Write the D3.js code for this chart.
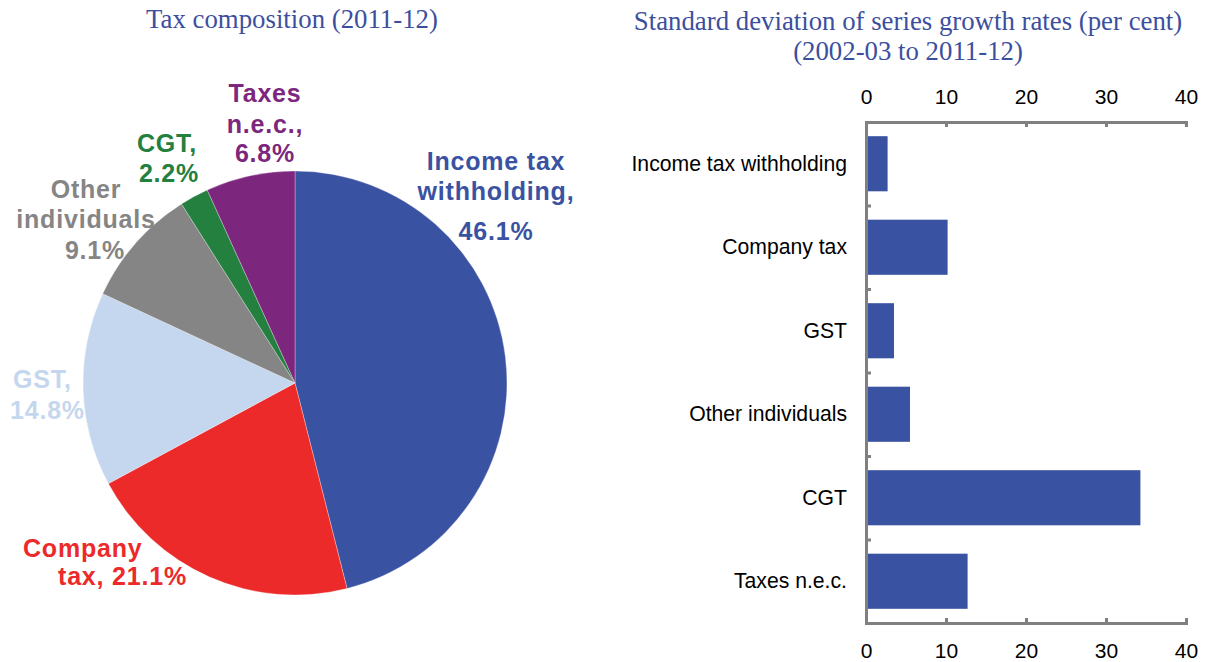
<!DOCTYPE html>
<html>
<head>
<meta charset="utf-8">
<script src="https://cdn.jsdelivr.net/npm/d3@7"></script>
<style>
  body { margin: 0; background: #fff; }
  svg { display: block; }
</style>
</head>
<body>
<div id="chart"></div>
<script>
// pie: tax composition 2011-12 (per cent)
const pieNames = ["Income tax withholding", "Company tax", "GST", "Other individuals", "CGT", "Taxes n.e.c."];
const pieShares = [46.1, 21.1, 14.8, 9.1, 2.2, 6.8];
const pieLabelLines = [
    ["Income tax", "withholding,", "46.1%"],
    ["Company", "tax, 21.1%"],
    ["GST,", "14.8%"],
    ["Other", "individuals", "9.1%"],
    ["CGT,", "2.2%"],
    ["Taxes", "n.e.c.,", "6.8%"]
];

// bars: std dev of growth rates 2002-03 to 2011-12 (per cent)
const barNames = ["Income tax withholding", "Company tax", "GST", "Other individuals", "CGT", "Taxes n.e.c."];
const barValues = [2.7, 10.2, 3.5, 5.5, 34.3, 12.7];
const xTicks = [0, 10, 20, 30, 40];

const width = 1206;
const height = 662;
const titleColor = "#3c4f9e";
const pieColors = ["#3a52a2", "#ec2a2a", "#c5d7ee", "#858585", "#23803e", "#7c277d"];

const svg = d3.select("#chart").append("svg")
    .attr("width", width)
    .attr("height", height);

// ---------- left: pie ----------
svg.append("text")
    .attr("x", 292)
    .attr("y", 28)
    .attr("text-anchor", "middle")
    .attr("font-family", "Liberation Serif, Times New Roman, serif")
    .attr("font-size", 26.8)
    .attr("fill", titleColor)
    .text("Tax composition (2011-12)");

const cx = 295, cy = 383, r = 212;

const pie = d3.pie().sort(null).value(d => d);
const arc = d3.arc().innerRadius(0).outerRadius(r);

const pieG = svg.append("g").attr("transform", `translate(${cx},${cy})`);
pieG.selectAll("path")
    .data(pie(pieShares))
    .join("path")
    .attr("d", arc)
    .attr("fill", (d, i) => pieColors[i])
    .attr("stroke", "#ffffff")
    .attr("stroke-opacity", 0.5)
    .attr("stroke-width", 0.6);

// label placement (anchor x, first baseline, line gaps, anchor)
const labelPos = [
    { x: 496, y: 170, gaps: [30, 40], anchor: "middle" },
    { x: 23, y: 557, gaps: [28], anchor: "start", dx: [0, 35] },
    { x: 13, y: 388, gaps: [31], anchor: "start", dx: [0, -3] },
    { x: 86, y: 198, gaps: [30, 31], anchor: "middle", dx: [0, 0, 9] },
    { x: 167, y: 152, gaps: [30], anchor: "middle", dx: [0, 2] },
    { x: 265, y: 102, gaps: [31, 29], anchor: "middle" }
];

pieLabelLines.forEach((lines, i) => {
    const p = labelPos[i];
    const t = svg.append("text")
        .attr("font-family", "Liberation Sans, Arial, sans-serif")
        .attr("font-weight", "bold")
        .attr("font-size", 25)
        .attr("letter-spacing", 0.8)
        .attr("text-anchor", p.anchor)
        .attr("fill", pieColors[i]);
    let yy = p.y;
    lines.forEach((line, j) => {
        if (j > 0) yy += p.gaps[j - 1];
        t.append("tspan")
            .attr("x", p.x + (p.dx ? p.dx[j] || 0 : 0))
            .attr("y", yy)
            .text(line);
    });
});

// ---------- right: bars ----------
svg.append("text")
    .attr("x", 908)
    .attr("text-anchor", "middle")
    .attr("font-family", "Liberation Serif, Times New Roman, serif")
    .attr("font-size", 26.8)
    .attr("fill", titleColor)
    .call(t => {
        t.append("tspan").attr("x", 908).attr("y", 30)
            .text("Standard deviation of series growth rates (per cent)");
        t.append("tspan").attr("x", 908).attr("y", 60)
            .text("(2002-03 to 2011-12)");
    });

const plotLeft = 866, plotRight = 1186, plotTop = 122, plotBottom = 623;
const axisGrey = "#808080";

const x = d3.scaleLinear()
    .domain([0, 40])
    .range([plotLeft, plotRight]);

const y = d3.scaleBand()
    .domain(barNames)
    .range([plotTop, plotBottom])
    .paddingInner(0.34)
    .paddingOuter(0.17);

// boundaries between categories for the left axis ticks
const yEdge = d3.scaleLinear()
    .domain([0, barNames.length])
    .range([plotTop, plotBottom]);

svg.append("g")
    .selectAll("rect")
    .data(barValues)
    .join("rect")
    .attr("x", x(0) + 1)
    .attr("y", (d, i) => y(barNames[i]))
    .attr("width", d => x(d) - x(0) - 1)
    .attr("height", y.bandwidth())
    .attr("fill", "#3a52a2");

const styleAxis = g => {
    g.selectAll(".domain, .tick line")
        .attr("stroke", axisGrey)
        .attr("stroke-width", 3);
    g.selectAll("text")
        .attr("font-family", "Liberation Sans, Arial, sans-serif")
        .attr("font-size", 21)
        .attr("fill", "#000");
};

svg.append("g")
    .attr("transform", `translate(0,${plotTop})`)
    .call(d3.axisTop(x).tickValues(xTicks).tickSizeInner(-5).tickSizeOuter(-5).tickPadding(18))
    .call(styleAxis);

svg.append("g")
    .attr("transform", `translate(0,${plotBottom})`)
    .call(d3.axisBottom(x).tickValues(xTicks).tickSizeInner(-5).tickSizeOuter(-5).tickPadding(20))
    .call(styleAxis);

svg.append("g")
    .attr("transform", `translate(${plotLeft},0)`)
    .call(d3.axisLeft(yEdge).tickValues(d3.range(1, barNames.length)).tickSizeInner(-5).tickSizeOuter(0).tickFormat(""))
    .call(styleAxis);

svg.append("g")
    .attr("transform", `translate(${plotLeft},0)`)
    .call(d3.axisLeft(y).tickSize(0).tickPadding(19))
    .call(g => g.select(".domain").remove())
    .call(styleAxis)
    .call(g => g.selectAll("text").attr("font-size", 21.2));
</script>
</body>
</html>
